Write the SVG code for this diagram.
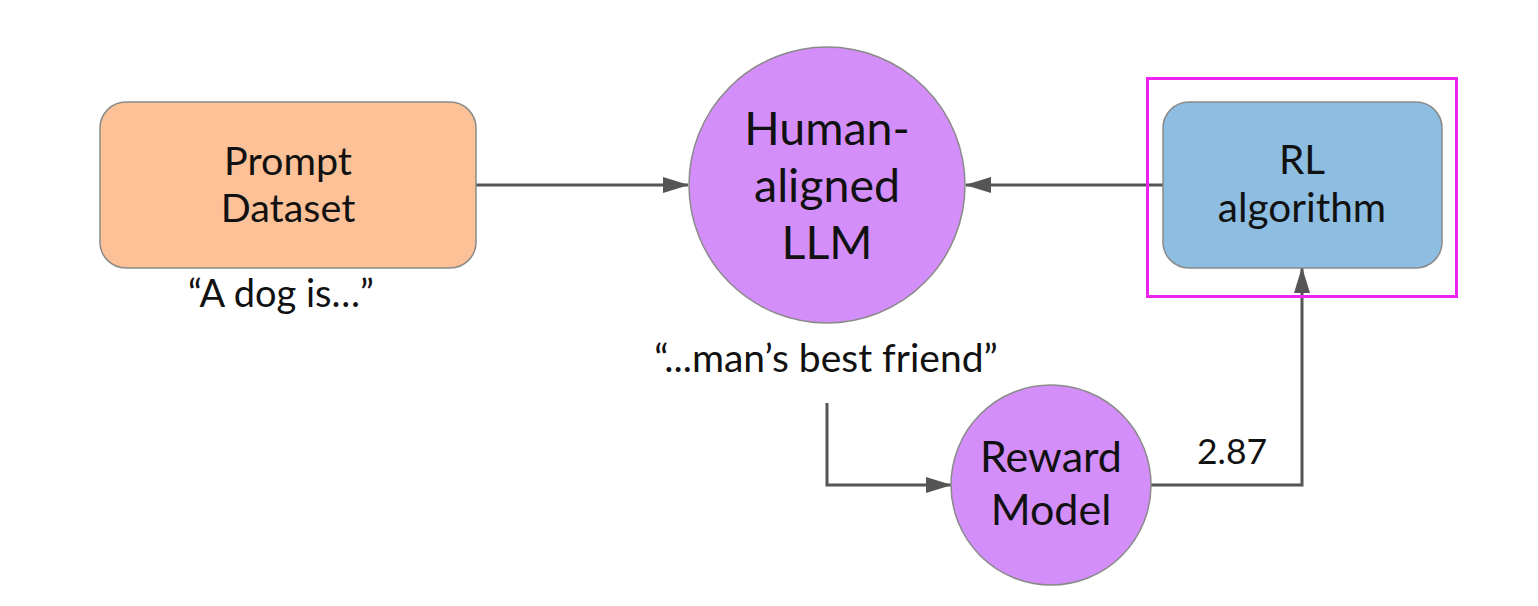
<svg xmlns="http://www.w3.org/2000/svg" width="1538" height="606" viewBox="0 0 1538 606">
<defs>
<style>
text{font-family:Lato,"Open Sans","Liberation Sans",sans-serif;fill:#111;text-anchor:middle}
.node{stroke:#8a8a8a;stroke-width:1.5}
.conn{fill:none;stroke:#555;stroke-width:3}
</style>
<marker id="arr" markerWidth="26" markerHeight="16" refX="25" refY="8" orient="auto" markerUnits="userSpaceOnUse">
<path d="M0,0 L26,8 L0,16 Z" fill="#555"/>
</marker>
</defs>
<rect width="1538" height="606" fill="#fff"/>
<g id="connectors">
<path class="conn" d="M476,185 H688" marker-end="url(#arr)"/>
<path class="conn" d="M1163,185 H966" marker-end="url(#arr)"/>
<path class="conn" d="M827,403 V485 H951" marker-end="url(#arr)"/>
<path class="conn" d="M1151,485 H1302 V268" marker-end="url(#arr)"/>
<text x="1232" y="464" font-size="35.5">2.87</text>
</g>
<g id="prompt-dataset">
<rect class="node" x="100" y="102" width="376" height="166" rx="26" fill="#FCC196"/>
<text x="288" y="175" font-size="39.5">Prompt</text>
<text x="288" y="222" font-size="39.5">Dataset</text>
<text x="281" y="307" font-size="38">“A dog is…”</text>
</g>
<g id="human-aligned-llm">
<circle class="node" cx="827" cy="185" r="138" fill="#D48EF9"/>
<text x="827" y="145" font-size="46.5">Human-</text>
<text x="827" y="202" font-size="46.5">aligned</text>
<text x="827" y="259" font-size="46.5">LLM</text>
<text x="826" y="372" font-size="39">“...man’s best friend”</text>
</g>
<g id="rl-algorithm">
<rect x="1147.5" y="78.5" width="309" height="218" fill="none" stroke="#EE22EE" stroke-width="3"/>
<rect class="node" x="1163" y="102" width="279" height="166" rx="26" fill="#8EBDE2"/>
<text x="1302" y="174" font-size="40.5">RL</text>
<text x="1302" y="222" font-size="40.5">algorithm</text>
</g>
<g id="reward-model">
<circle class="node" cx="1051" cy="485" r="100" fill="#D48EF9"/>
<text x="1051" y="472" font-size="43">Reward</text>
<text x="1051" y="525" font-size="43">Model</text>
</g>
</svg>
